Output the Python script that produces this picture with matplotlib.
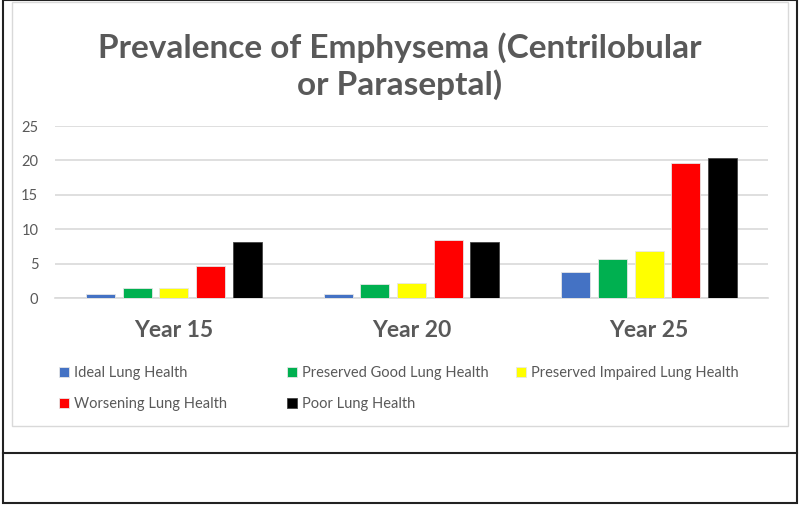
import numpy as np
import matplotlib.pyplot as plt
from matplotlib.patches import Rectangle
from matplotlib.lines import Line2D

plt.rcParams['font.family'] = ['Lato', 'DejaVu Sans']

years = ["Year 15", "Year 20", "Year 25"]
groups = ["Ideal Lung Health", "Preserved Good Lung Health", "Preserved Impaired Lung Health",
          "Worsening Lung Health", "Poor Lung Health"]
ideal = [0.6, 0.6, 3.8]
good = [1.5, 2.0, 5.6]
impaired = [1.5, 2.2, 6.9]
worsening = [4.6, 8.4, 19.6]
poor = [8.1, 8.1, 20.4]
colors = ["#4472C4", "#00B050", "#FFFF00", "#FF0000", "#000000"]

W, H = 800, 505
fig = plt.figure(figsize=(8, 5.05), dpi=100)

def fx(px):
    return px / W

def fy(py):
    return 1 - py / H

# table-like borders around the chart
fig.add_artist(Rectangle((fx(3), fy(503)), fx(794), 503 / H, transform=fig.transFigure,
                         fill=False, edgecolor="#222222", linewidth=1.5))
fig.add_artist(Line2D([fx(3), fx(797)], [fy(453), fy(453)], transform=fig.transFigure,
                      color="#222222", linewidth=1.5))
fig.add_artist(Rectangle((fx(12), fy(426)), fx(776), 424 / H, transform=fig.transFigure,
                         fill=False, edgecolor="#d9d9d9", linewidth=1))

ax = fig.add_axes([fx(55), 1 - 298 / H, fx(713), 172 / H])
series = [ideal, good, impaired, worsening, poor]
x = np.arange(len(years))
step = 0.154
bw = 0.122
handles = []
for i, vals in enumerate(series):
    b = ax.bar(x + (i - 2) * step, vals, width=bw, color=colors[i],
               edgecolor="#e6e6e6" if i < 4 else "#444444", linewidth=0.6,
               label=groups[i], zorder=3)
    handles.append(b)

ax.set_xlim(-0.5, 2.5)
ax.set_ylim(0, 25)
ax.set_yticks([0, 5, 10, 15, 20, 25])
ax.grid(axis="y", color="#d9d9d9", linewidth=1.2, zorder=0)
for s in ["top", "right", "left"]:
    ax.spines[s].set_visible(False)
ax.spines["bottom"].set_color("#d9d9d9")
ax.spines["bottom"].set_linewidth(1.2)
ax.tick_params(axis="both", length=0)
ax.tick_params(axis="y", labelsize=10.5, labelcolor="#595959", pad=12)
ax.set_xticks(x)
ax.set_xticklabels(years, fontsize=16.5, fontweight="bold", color="#595959")
ax.tick_params(axis="x", pad=16)

fig.text(0.5, fy(48), "Prevalence of Emphysema (Centrilobular", ha="center", va="center",
         fontsize=24, fontweight="bold", color="#595959")
fig.text(0.5, fy(85), "or Paraseptal)", ha="center", va="center",
         fontsize=24, fontweight="bold", color="#595959")

# legend laid out in columns like the original
cols = [([0, 3], 59), ([1, 4], 287), ([2], 516)]
for idx, xpos in cols:
    leg = fig.legend([handles[k] for k in idx], [groups[k] for k in idx],
                     loc="upper left", bbox_to_anchor=(fx(xpos), fy(366)),
                     frameon=False, fontsize=10.5, handlelength=0.7, handleheight=0.7,
                     handletextpad=0.3, labelspacing=1.15, borderpad=0, borderaxespad=0)
    for t in leg.get_texts():
        t.set_color("#595959")

fig.savefig("out.png", dpi=100)
